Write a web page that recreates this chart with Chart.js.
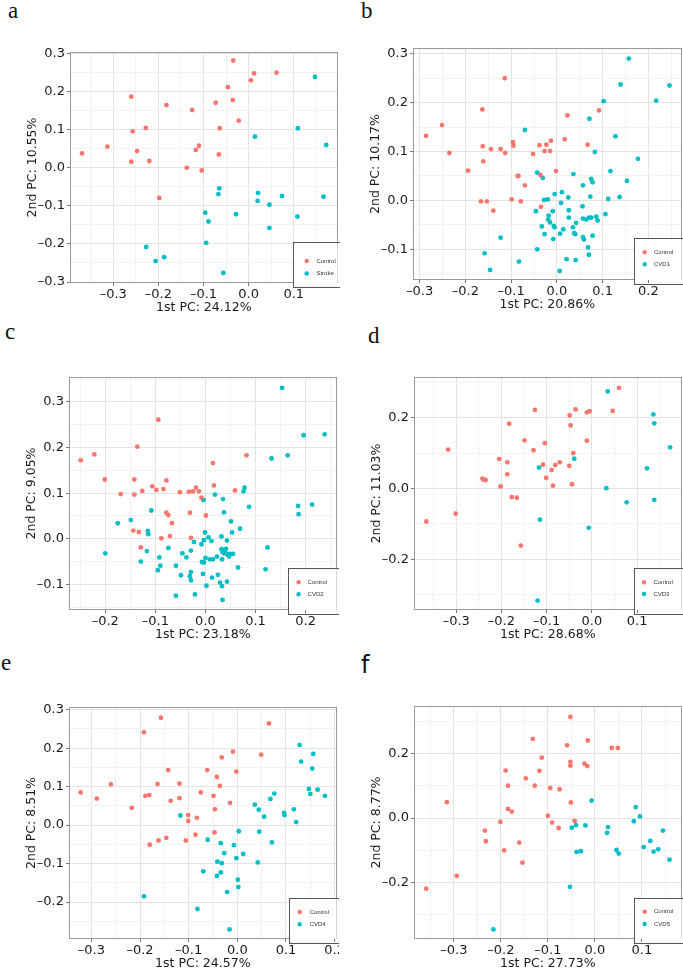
<!DOCTYPE html>
<html><head><meta charset="utf-8">
<script src="https://cdn.jsdelivr.net/npm/chart.js@4.4.1/dist/chart.umd.min.js"></script>
<style>
html,body{margin:0;padding:0;background:#fff;overflow:hidden;}
#page{position:relative;width:683px;height:970px;overflow:hidden;background:#fff;}
.lab{position:absolute;font-family:"Liberation Serif",serif;font-size:23px;line-height:23px;color:#111;}
canvas{position:absolute;}
</style></head><body><div id="page">
<span class="lab" style="left:8px;top:-1px">a</span>
<span class="lab" style="left:361px;top:-1px">b</span>
<span class="lab" style="left:5px;top:320px">c</span>
<span class="lab" style="left:368px;top:324px">d</span>
<span class="lab" style="left:1px;top:651px">e</span>
<span class="lab" style="left:361px;top:653px;font-family:'DejaVu Sans',sans-serif;font-size:24px;line-height:24px">f</span>
</div>
<script>
// ---------------- data (PC1, PC2) ----------------
const aControl = [[-0.369,0.038],[-0.313,0.056],[-0.260,0.187],[-0.257,0.096],[-0.228,0.105],[-0.247,0.044],[-0.260,0.016],[-0.220,0.018],[-0.198,-0.079],[-0.182,0.165],[-0.125,0.152],[-0.137,0.000],[-0.117,0.047],[-0.110,0.058],[-0.104,-0.007],[-0.073,0.171],[-0.064,0.104],[-0.066,0.035],[-0.046,0.212],[-0.034,0.282],[-0.035,0.178],[-0.022,0.124],[0.005,0.230],[0.012,0.248],[0.062,0.250]];
const aStroke = [[0.147,0.239],[0.109,0.104],[0.172,0.060],[0.014,0.082],[-0.065,-0.054],[-0.067,-0.069],[0.021,-0.066],[0.020,-0.087],[0.046,-0.097],[0.074,-0.074],[0.166,-0.076],[-0.096,-0.118],[-0.089,-0.141],[-0.028,-0.122],[0.046,-0.158],[0.108,-0.128],[-0.094,-0.197],[-0.227,-0.208],[-0.206,-0.245],[-0.187,-0.235],[-0.056,-0.276]];

const bControl = [[-0.286,0.132],[-0.251,0.154],[-0.235,0.097],[-0.163,0.186],[-0.162,0.111],[-0.161,0.080],[-0.144,0.105],[-0.194,0.061],[-0.166,-0.002],[-0.153,-0.002],[-0.139,-0.021],[-0.123,0.105],[-0.113,0.097],[-0.114,0.250],[-0.095,0.112],[-0.096,0.119],[-0.086,0.050],[-0.084,0.050],[-0.070,0.031],[-0.079,-0.002],[-0.099,0.002],[-0.052,0.095],[-0.038,0.113],[-0.036,0.052],[-0.035,-0.013],[-0.027,0.101],[-0.023,0.114],[-0.015,0.101],[-0.013,0.122],[-0.002,0.060],[0.017,0.125],[0.023,0.174],[0.067,0.114],[0.092,0.184]];
const bCVD1 = [[0.157,0.290],[0.139,0.237],[0.246,0.235],[0.102,0.203],[0.217,0.204],[0.071,0.167],[-0.070,0.144],[0.128,0.131],[0.177,0.085],[-0.123,-0.076],[-0.158,-0.108],[-0.146,-0.142],[-0.083,-0.125],[0.083,0.099],[0.036,0.054],[0.117,0.060],[-0.043,0.057],[-0.031,0.046],[0.075,0.044],[0.078,0.037],[0.057,0.031],[0.153,0.040],[-0.005,0.013],[0.011,0.017],[0.025,0.006],[-0.028,0.001],[-0.020,0.002],[0.009,-0.005],[0.073,0.008],[0.112,0.003],[0.137,0.007],[-0.046,-0.022],[0.056,-0.012],[0.026,-0.020],[-0.009,-0.022],[-0.018,-0.031],[-0.019,-0.039],[-0.015,-0.045],[0.026,-0.035],[0.057,-0.037],[0.064,-0.039],[0.070,-0.035],[0.075,-0.035],[0.086,-0.033],[0.089,-0.041],[0.106,-0.028],[0.042,-0.046],[-0.007,-0.052],[-0.005,-0.055],[-0.033,-0.053],[0.014,-0.059],[0.035,-0.055],[0.007,-0.068],[-0.027,-0.069],[0.038,-0.067],[0.040,-0.069],[0.057,-0.075],[0.059,-0.080],[0.078,-0.072],[-0.008,-0.079],[0.068,-0.096],[0.070,-0.111],[-0.043,-0.100],[0.021,-0.120],[0.041,-0.122],[0.006,-0.144]];

const cControl = [[-0.249,0.172],[-0.222,0.185],[-0.201,0.130],[-0.169,0.098],[-0.142,0.130],[-0.142,0.097],[-0.136,0.202],[-0.126,0.105],[-0.106,0.115],[-0.098,0.107],[-0.094,0.261],[-0.084,0.109],[-0.078,0.128],[-0.078,0.057],[-0.074,0.052],[-0.067,0.034],[-0.144,0.018],[-0.133,0.015],[-0.129,-0.019],[-0.088,0.001],[-0.071,0.006],[-0.051,0.102],[-0.033,0.103],[-0.031,0.057],[-0.029,0.002],[-0.025,0.104],[-0.019,0.112],[-0.013,0.104],[-0.008,0.090],[0.001,0.051],[0.015,0.166],[0.017,0.117],[0.059,0.106],[0.082,0.183]];
const cCVD2 = [[0.153,0.331],[0.238,0.229],[0.196,0.227],[0.164,0.183],[0.132,0.176],[0.078,0.112],[0.076,0.104],[0.087,0.070],[0.185,0.072],[0.186,0.054],[0.213,0.075],[-0.004,0.085],[0.019,0.097],[0.035,0.087],[-0.108,0.062],[0.037,0.058],[-0.149,0.041],[0.051,0.038],[0.069,0.022],[-0.115,0.017],[-0.114,0.010],[0.053,0.014],[-0.001,0.014],[0.032,0.005],[0.012,-0.005],[0.006,0.003],[-0.003,-0.003],[-0.008,-0.012],[-0.023,-0.007],[0.043,-0.004],[-0.074,-0.020],[-0.029,-0.026],[-0.117,-0.027],[-0.046,-0.032],[0.032,-0.023],[0.037,-0.025],[0.041,-0.022],[0.034,-0.029],[0.039,-0.028],[0.037,-0.032],[0.043,-0.034],[0.049,-0.033],[0.055,-0.033],[0.047,-0.039],[0.023,-0.039],[0.015,-0.045],[0.009,-0.045],[0.000,-0.042],[-0.003,-0.052],[-0.007,-0.051],[0.033,-0.045],[-0.038,-0.041],[-0.092,-0.041],[-0.129,-0.050],[0.065,-0.063],[0.120,-0.067],[0.124,-0.019],[-0.090,-0.059],[-0.095,-0.069],[-0.059,-0.059],[-0.029,-0.073],[-0.031,-0.082],[-0.029,-0.091],[-0.049,-0.080],[-0.005,-0.077],[0.013,-0.085],[0.025,-0.079],[0.043,-0.094],[0.029,-0.096],[0.033,-0.104],[0.002,-0.103],[-0.021,-0.122],[-0.059,-0.125],[0.034,-0.134],[-0.175,0.034],[-0.200,-0.032]];

const dControl = [[-0.366,-0.093],[-0.318,0.110],[-0.301,-0.071],[-0.242,0.028],[-0.239,0.025],[-0.235,0.024],[-0.205,0.083],[-0.202,0.006],[-0.187,0.074],[-0.187,0.040],[-0.183,0.183],[-0.177,-0.024],[-0.166,-0.026],[-0.157,-0.161],[-0.149,0.136],[-0.129,0.108],[-0.126,0.222],[-0.108,0.067],[-0.104,0.128],[-0.101,0.030],[-0.089,0.052],[-0.086,0.008],[-0.081,0.066],[-0.071,0.074],[-0.050,0.064],[-0.049,0.206],[-0.047,0.178],[-0.044,0.012],[-0.041,0.100],[-0.036,0.223],[-0.011,0.215],[-0.005,0.218],[-0.011,0.135],[0.046,0.219],[0.060,0.284]];
const dCVD3 = [[0.035,0.274],[0.136,0.209],[0.138,0.184],[0.173,0.116],[0.122,0.057],[-0.039,0.084],[-0.117,0.059],[0.032,0.001],[0.077,-0.039],[0.138,-0.032],[-0.115,-0.088],[-0.007,-0.111],[-0.120,-0.316]];

const eControl = [[-0.322,0.085],[-0.289,0.069],[-0.260,0.106],[-0.217,0.045],[-0.192,0.241],[-0.189,0.076],[-0.181,0.078],[-0.157,0.279],[-0.164,0.107],[-0.180,-0.051],[-0.162,-0.040],[-0.146,-0.033],[-0.137,0.063],[-0.142,0.143],[-0.119,0.108],[-0.119,0.070],[-0.101,0.026],[-0.101,0.011],[-0.106,-0.040],[-0.086,-0.025],[-0.083,0.019],[-0.075,0.085],[-0.062,0.143],[-0.049,0.076],[-0.046,0.041],[-0.047,-0.019],[-0.042,0.125],[-0.036,0.102],[-0.032,0.176],[-0.009,0.191],[-0.015,0.058],[-0.002,0.139],[0.049,0.183],[0.065,0.264]];
const eCVD4 = [[0.128,0.208],[0.156,0.185],[0.131,0.165],[0.154,0.147],[0.147,0.094],[0.150,0.081],[0.165,0.092],[0.180,0.076],[0.076,0.082],[0.068,0.068],[0.036,0.053],[0.044,0.040],[0.055,0.022],[0.096,0.032],[0.097,0.026],[0.116,0.041],[0.121,0.008],[0.045,-0.017],[0.071,-0.045],[0.003,-0.016],[-0.007,-0.052],[-0.027,-0.073],[-0.041,-0.095],[-0.032,-0.099],[-0.002,-0.086],[0.012,-0.075],[-0.061,-0.038],[-0.117,0.025],[-0.070,-0.120],[-0.042,-0.132],[-0.034,-0.123],[0.042,-0.097],[0.001,-0.142],[0.002,-0.161],[-0.021,-0.174],[-0.192,-0.185],[-0.082,-0.218],[-0.016,-0.271],[-0.034,-0.047]];

const fControl = [[-0.359,-0.219],[-0.315,0.049],[-0.294,-0.179],[-0.234,-0.039],[-0.232,-0.072],[-0.201,-0.012],[-0.193,-0.100],[-0.190,0.147],[-0.185,0.100],[-0.185,0.028],[-0.177,0.020],[-0.161,-0.076],[-0.154,-0.138],[-0.147,0.123],[-0.132,0.245],[-0.128,0.100],[-0.118,0.146],[-0.113,0.187],[-0.100,0.007],[-0.095,0.093],[-0.091,-0.014],[-0.077,-0.031],[-0.075,0.089],[-0.059,0.225],[-0.052,0.313],[-0.052,0.174],[-0.052,0.162],[-0.051,0.048],[-0.043,-0.009],[-0.022,0.168],[-0.016,0.161],[-0.015,0.240],[0.036,0.217],[0.049,0.217]];
const fCVD5 = [[-0.007,0.054],[0.087,0.034],[0.096,0.005],[0.083,-0.010],[-0.040,-0.022],[-0.049,-0.030],[-0.020,-0.023],[0.028,-0.028],[0.026,-0.046],[0.145,-0.039],[0.118,-0.071],[0.104,-0.090],[0.125,-0.104],[0.135,-0.097],[0.159,-0.129],[0.046,-0.099],[0.051,-0.110],[-0.039,-0.105],[-0.030,-0.103],[-0.053,-0.213],[-0.216,-0.345]];

const groupNames = ['Control','Stroke','CVD1','CVD2','CVD3','CVD4','CVD5'];
const xTitles = ['1st PC: 24.12%','1st PC: 20.86%','1st PC: 23.18%','1st PC: 28.68%','1st PC: 24.57%','1st PC: 27.73%'];
const yTitles = ['2nd PC: 10.55%','2nd PC: 10.17%','2nd PC: 9.05%','2nd PC: 11.03%','2nd PC: 8.51%','2nd PC: 8.77%'];

// ---------------- layout ----------------
const WY = 66, HX = 34, PADT = 12;
const panels = [
  {L:70, T:52, R:338,B:283, xr:[-0.3958,0.1972], yr:[-0.3026,0.3044], xm:0.1, ym:0.1, sets:[aControl,aStroke], g:1, lg:{bx:45,  by:41.5, dot:13.7, rows:[22,9.5],    tx:23.4}},
  {L:413,T:48, R:682,B:280, xr:[-0.3145,0.2725], yr:[-0.1626,0.3116], xm:0.1, ym:0.1, sets:[bControl,bCVD1], g:2, lg:{bx:48,  by:41.7, dot:10.7, rows:[27.7,15.7], tx:20}},
  {L:69, T:377,R:337,B:610, xr:[-0.2724,0.2618], yr:[-0.1562,0.3547], xm:0.1, ym:0.1, sets:[cControl,cCVD2], g:3, lg:{bx:48.3,by:41.7, dot:10.6, rows:[27.7,15.7], tx:19.6}},
  {L:414,T:377,R:682,B:610, xr:[-0.3934,0.1985], yr:[-0.3427,0.3146], xm:0.1, ym:0.2, sets:[dControl,dCVD3], g:4, lg:{bx:47.7,by:41.7, dot:10,   rows:[27.7,16],   tx:19.4}},
  {L:69, T:707,R:337,B:939, xr:[-0.3460,0.2040], yr:[-0.2959,0.3069], xm:0.1, ym:0.1, sets:[eControl,eCVD4], g:5, lg:{bx:47.7,by:41.3, dot:10.7, rows:[27,14.7],   tx:20.7}},
  {L:414,T:706,R:682,B:939, xr:[-0.3850,0.1847], yr:[-0.3747,0.3469], xm:0.1, ym:0.2, sets:[fControl,fCVD5], g:6, lg:{bx:47.7,by:41.3, dot:10.7, rows:[27.3,15],   tx:20}}
];
const colors = ['#F8766D','#00BFC4'];

function makeTicks(min, max, step){
  const out = [];
  const s = Math.ceil(min/step - 1e-9), e = Math.floor(max/step + 1e-9);
  for (let i = s; i <= e; i++) out.push({value: Math.round(i*step*10000)/10000});
  return out;
}
function isMajor(v, m){ return Math.abs(v/m - Math.round(v/m)) < 1e-6; }
function fmt(v){ const s = Math.abs(v).toFixed(1); return v < -1e-9 ? '\u2013' + s : s; }

function axis(min, max, major, title, isX){
  return {
    type:'linear', position: isX ? 'bottom' : 'left', min, max,
    afterBuildTicks: s => { s.ticks = makeTicks(min, max, major/2); },
    afterFit: s => {
      if (isX) { s.height = HX; s.paddingLeft = 0; s.paddingRight = 0; }
      else { s.width = WY; s.paddingTop = 0; s.paddingBottom = 0; }
    },
    ticks:{ autoSkip:false, maxRotation:0, minRotation:0, padding: isX ? 1 : 2, color:'#1a1a1a',
      font:{family:'DejaVu Sans', size:13}, callback: v => isMajor(v, major) ? fmt(v) : '' },
    grid:{ lineWidth:1, drawTicks:true, tickLength:3,
      color: c => (c.tick && isMajor(c.tick.value, major)) ? '#e3e3e3' : '#f2f2f2',
      tickColor: c => (c.tick && isMajor(c.tick.value, major)) ? '#777' : 'rgba(0,0,0,0)' },
    border:{display:false},
    title:{display:true, text:title, color:'#1a1a1a', font:{family:'DejaVu Sans', size:12.5},
      padding: isX ? {top:0, bottom: HX - 32} : {top: WY - 45, bottom:0}}
  };
}

const framePlugin = {
  id:'frame',
  afterDraw(chart, args, opts){
    const {ctx, chartArea:a} = chart;
    const lg = opts.lg;
    ctx.save();
    // panel border
    ctx.strokeStyle = '#9a9a9a'; ctx.lineWidth = 1;
    ctx.strokeRect(Math.round(a.left)+0.5, Math.round(a.top)+0.5, Math.round(a.right-a.left)-1, Math.round(a.bottom-a.top)-1);
    // legend box
    const bx = Math.round(a.right - lg.bx), by = Math.round(a.bottom - lg.by);
    ctx.fillStyle = '#fff';
    ctx.fillRect(bx, by, a.right - bx, a.bottom - by);
    ctx.strokeStyle = '#555';
    ctx.strokeRect(bx+0.5, by+0.5, a.right - bx + 4, a.bottom - by + 4);
    ctx.font = '6px "Liberation Sans", Arial, sans-serif';
    ctx.textBaseline = 'middle'; ctx.textAlign = 'left';
    chart.data.datasets.forEach((ds, i) => {
      const y = a.bottom - lg.rows[i];
      ctx.fillStyle = ds.backgroundColor;
      ctx.beginPath(); ctx.arc(bx + lg.dot, y, 2.2, 0, Math.PI*2); ctx.fill();
      ctx.fillStyle = '#333';
      ctx.fillText(ds.label, bx + lg.tx, y);
    });
    ctx.restore();
  }
};

const page = document.getElementById('page');
panels.forEach((p, k) => {
  const cv = document.createElement('canvas');
  const w = WY + (p.R - p.L) + 2, h = PADT + (p.B - p.T) + HX;
  cv.width = w; cv.height = h;
  cv.style.width = w + 'px'; cv.style.height = h + 'px';
  cv.style.left = (p.L - WY) + 'px'; cv.style.top = (p.T - PADT) + 'px';
  page.appendChild(cv);
  const names = [groupNames[0], groupNames[p.g]];
  new Chart(cv, {
    type:'scatter',
    data:{ datasets: p.sets.map((s, i) => ({
      label: names[i],
      data: s.map(d => ({x:d[0], y:d[1]})),
      backgroundColor: colors[i], borderWidth:0, pointRadius:2.4, pointHoverRadius:2.4
    }))},
    options:{
      responsive:false, animation:false, devicePixelRatio:1, events:[],
      layout:{padding:{top:PADT, right:2, left:0, bottom:0}},
      plugins:{legend:{display:false}, tooltip:{enabled:false}, frame:{lg:p.lg}},
      scales:{
        x: axis(p.xr[0], p.xr[1], p.xm, xTitles[k], true),
        y: axis(p.yr[0], p.yr[1], p.ym, yTitles[k], false)
      }
    },
    plugins:[framePlugin]
  });
});
</script>
</body></html>
